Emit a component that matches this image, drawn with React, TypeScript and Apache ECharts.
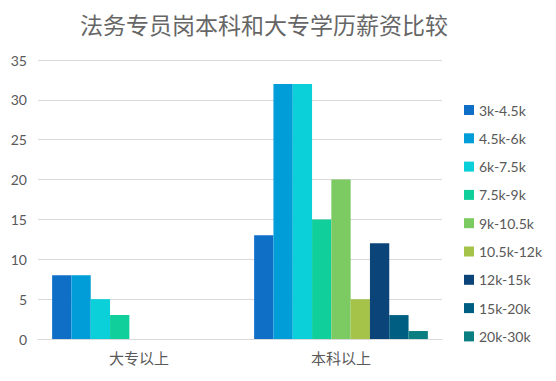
import React, { useEffect, useRef } from "react";
import * as echarts from "echarts";

const categories = ["大专以上", "本科以上"];
const seriesNames = ["3k-4.5k", "4.5k-6k", "6k-7.5k", "7.5k-9k", "9k-10.5k", "10.5k-12k", "12k-15k", "15k-20k", "20k-30k"];
const dazhuanValues = [8, 8, 5, 3, 0, 0, 0, 0, 0];
const benkeValues = [13, 32, 32, 15, 20, 5, 12, 3, 1];
const colors = ["#0f6fc6", "#009dd9", "#0bd0d9", "#10cf9b", "#7cca62", "#a5c249", "#0b4479", "#005e82", "#0a7e80"];
const yTicks = { min: 0, max: 35, interval: 5 };

export default function App() {
  const ref = useRef<HTMLDivElement>(null);
  useEffect(() => {
    const chart = echarts.init(ref.current!, null, { renderer: "svg" });
    chart.setOption({
      animation: false,
      color: colors,
      title: {
        text: "法务专员岗本科和大专学历薪资比较",
        left: 75,
        top: 7,
        textStyle: { fontSize: 23, fontWeight: "normal", color: "#666666", fontFamily: "Noto Sans CJK SC" },
      },
      legend: {
        orient: "vertical",
        left: 459,
        top: 98,
        itemWidth: 10,
        itemHeight: 10,
        itemGap: 14.3,
        icon: "rect",
        textStyle: { fontSize: 14, color: "#595959", fontFamily: "Lato" },
        data: seriesNames,
      },
      grid: { left: 38, right: 114, top: 60, bottom: 42, containLabel: false },
      xAxis: {
        type: "category",
        data: categories,
        axisLine: { lineStyle: { color: "#d9d9d9" } },
        axisTick: { show: false },
        axisLabel: { fontSize: 15, color: "#595959", margin: 11, fontFamily: "Noto Sans CJK SC" },
      },
      yAxis: {
        type: "value",
        min: yTicks.min,
        max: yTicks.max,
        interval: yTicks.interval,
        axisLine: { show: false },
        axisTick: { show: false },
        splitLine: { lineStyle: { color: "#d9d9d9" } },
        axisLabel: { fontSize: 14, color: "#595959", margin: 11, fontFamily: "Lato" },
      },
      series: seriesNames.map((name, i) => ({
        name,
        type: "bar",
        data: [dazhuanValues[i], benkeValues[i]],
        barGap: "0%",
        barCategoryGap: "14%",
      })),
    });
    return () => chart.dispose();
  }, []);
  return <div ref={ref} style={{ position: "absolute", left: 0, top: 0, width: 556, height: 381 }} />;
}
